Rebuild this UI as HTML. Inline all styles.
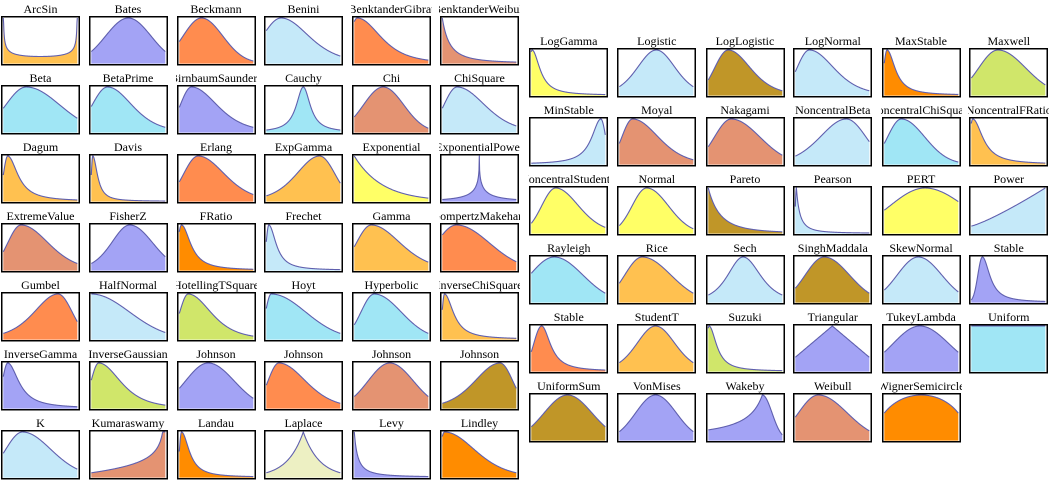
<!DOCTYPE html>
<html><head><meta charset="utf-8">
<style>
html,body{margin:0;padding:0;background:#fff;}
body{width:1051px;height:486px;position:relative;overflow:hidden;}
.c{position:absolute;width:81px;}
.t{height:14px;display:flex;justify-content:center;overflow:hidden;white-space:nowrap;font:12px/14px "Liberation Serif","Times New Roman",serif;color:#000;}
.t span{flex:none;}
.c svg{display:block;margin-left:1px;overflow:hidden;}
.c rect{fill:#fff;stroke:#000;stroke-width:1.5;}
</style></head><body>
<div class="c" style="left:0px;top:2px"><div class="t"><span>ArcSin</span></div><svg width="79" height="50"><rect x=".75" y=".75" width="77.5" height="48"/></svg></div>
<div class="c" style="left:87.5px;top:2px"><div class="t"><span>Bates</span></div><svg width="79" height="50"><rect x=".75" y=".75" width="77.5" height="48"/></svg></div>
<div class="c" style="left:175.5px;top:2px"><div class="t"><span>Beckmann</span></div><svg width="79" height="50"><rect x=".75" y=".75" width="77.5" height="48"/></svg></div>
<div class="c" style="left:263px;top:2px"><div class="t"><span>Benini</span></div><svg width="79" height="50"><rect x=".75" y=".75" width="77.5" height="48"/></svg></div>
<div class="c" style="left:351px;top:2px"><div class="t"><span>BenktanderGibrat</span></div><svg width="79" height="50"><rect x=".75" y=".75" width="77.5" height="48"/></svg></div>
<div class="c" style="left:439px;top:2px"><div class="t"><span>BenktanderWeibull</span></div><svg width="79" height="50"><rect x=".75" y=".75" width="77.5" height="48"/></svg></div>

<div class="c" style="left:0px;top:71px"><div class="t"><span>Beta</span></div><svg width="79" height="50"><rect x=".75" y=".75" width="77.5" height="48"/></svg></div>
<div class="c" style="left:87.5px;top:71px"><div class="t"><span>BetaPrime</span></div><svg width="79" height="50"><rect x=".75" y=".75" width="77.5" height="48"/></svg></div>
<div class="c" style="left:175.5px;top:71px"><div class="t"><span>BirnbaumSaunders</span></div><svg width="79" height="50"><rect x=".75" y=".75" width="77.5" height="48"/></svg></div>
<div class="c" style="left:263px;top:71px"><div class="t"><span>Cauchy</span></div><svg width="79" height="50"><rect x=".75" y=".75" width="77.5" height="48"/></svg></div>
<div class="c" style="left:351px;top:71px"><div class="t"><span>Chi</span></div><svg width="79" height="50"><rect x=".75" y=".75" width="77.5" height="48"/></svg></div>
<div class="c" style="left:439px;top:71px"><div class="t"><span>ChiSquare</span></div><svg width="79" height="50"><rect x=".75" y=".75" width="77.5" height="48"/></svg></div>

<div class="c" style="left:0px;top:140px"><div class="t"><span>Dagum</span></div><svg width="79" height="50"><rect x=".75" y=".75" width="77.5" height="48"/></svg></div>
<div class="c" style="left:87.5px;top:140px"><div class="t"><span>Davis</span></div><svg width="79" height="50"><rect x=".75" y=".75" width="77.5" height="48"/></svg></div>
<div class="c" style="left:175.5px;top:140px"><div class="t"><span>Erlang</span></div><svg width="79" height="50"><rect x=".75" y=".75" width="77.5" height="48"/></svg></div>
<div class="c" style="left:263px;top:140px"><div class="t"><span>ExpGamma</span></div><svg width="79" height="50"><rect x=".75" y=".75" width="77.5" height="48"/></svg></div>
<div class="c" style="left:351px;top:140px"><div class="t"><span>Exponential</span></div><svg width="79" height="50"><rect x=".75" y=".75" width="77.5" height="48"/></svg></div>
<div class="c" style="left:439px;top:140px"><div class="t"><span>ExponentialPower</span></div><svg width="79" height="50"><rect x=".75" y=".75" width="77.5" height="48"/></svg></div>

<div class="c" style="left:0px;top:209px"><div class="t"><span>ExtremeValue</span></div><svg width="79" height="50"><rect x=".75" y=".75" width="77.5" height="48"/></svg></div>
<div class="c" style="left:87.5px;top:209px"><div class="t"><span>FisherZ</span></div><svg width="79" height="50"><rect x=".75" y=".75" width="77.5" height="48"/></svg></div>
<div class="c" style="left:175.5px;top:209px"><div class="t"><span>FRatio</span></div><svg width="79" height="50"><rect x=".75" y=".75" width="77.5" height="48"/></svg></div>
<div class="c" style="left:263px;top:209px"><div class="t"><span>Frechet</span></div><svg width="79" height="50"><rect x=".75" y=".75" width="77.5" height="48"/></svg></div>
<div class="c" style="left:351px;top:209px"><div class="t"><span>Gamma</span></div><svg width="79" height="50"><rect x=".75" y=".75" width="77.5" height="48"/></svg></div>
<div class="c" style="left:439px;top:209px"><div class="t"><span>GompertzMakeham</span></div><svg width="79" height="50"><rect x=".75" y=".75" width="77.5" height="48"/></svg></div>

<div class="c" style="left:0px;top:278px"><div class="t"><span>Gumbel</span></div><svg width="79" height="50"><rect x=".75" y=".75" width="77.5" height="48"/></svg></div>
<div class="c" style="left:87.5px;top:278px"><div class="t"><span>HalfNormal</span></div><svg width="79" height="50"><rect x=".75" y=".75" width="77.5" height="48"/></svg></div>
<div class="c" style="left:175.5px;top:278px"><div class="t"><span>HotellingTSquare</span></div><svg width="79" height="50"><rect x=".75" y=".75" width="77.5" height="48"/></svg></div>
<div class="c" style="left:263px;top:278px"><div class="t"><span>Hoyt</span></div><svg width="79" height="50"><rect x=".75" y=".75" width="77.5" height="48"/></svg></div>
<div class="c" style="left:351px;top:278px"><div class="t"><span>Hyperbolic</span></div><svg width="79" height="50"><rect x=".75" y=".75" width="77.5" height="48"/></svg></div>
<div class="c" style="left:439px;top:278px"><div class="t"><span>InverseChiSquare</span></div><svg width="79" height="50"><rect x=".75" y=".75" width="77.5" height="48"/></svg></div>

<div class="c" style="left:0px;top:347px"><div class="t"><span>InverseGamma</span></div><svg width="79" height="50"><rect x=".75" y=".75" width="77.5" height="48"/></svg></div>
<div class="c" style="left:87.5px;top:347px"><div class="t"><span>InverseGaussian</span></div><svg width="79" height="50"><rect x=".75" y=".75" width="77.5" height="48"/></svg></div>
<div class="c" style="left:175.5px;top:347px"><div class="t"><span>Johnson</span></div><svg width="79" height="50"><rect x=".75" y=".75" width="77.5" height="48"/></svg></div>
<div class="c" style="left:263px;top:347px"><div class="t"><span>Johnson</span></div><svg width="79" height="50"><rect x=".75" y=".75" width="77.5" height="48"/></svg></div>
<div class="c" style="left:351px;top:347px"><div class="t"><span>Johnson</span></div><svg width="79" height="50"><rect x=".75" y=".75" width="77.5" height="48"/></svg></div>
<div class="c" style="left:439px;top:347px"><div class="t"><span>Johnson</span></div><svg width="79" height="50"><rect x=".75" y=".75" width="77.5" height="48"/></svg></div>

<div class="c" style="left:0px;top:416px"><div class="t"><span>K</span></div><svg width="79" height="50"><rect x=".75" y=".75" width="77.5" height="48"/></svg></div>
<div class="c" style="left:87.5px;top:416px"><div class="t"><span>Kumaraswamy</span></div><svg width="79" height="50"><rect x=".75" y=".75" width="77.5" height="48"/></svg></div>
<div class="c" style="left:175.5px;top:416px"><div class="t"><span>Landau</span></div><svg width="79" height="50"><rect x=".75" y=".75" width="77.5" height="48"/></svg></div>
<div class="c" style="left:263px;top:416px"><div class="t"><span>Laplace</span></div><svg width="79" height="50"><rect x=".75" y=".75" width="77.5" height="48"/></svg></div>
<div class="c" style="left:351px;top:416px"><div class="t"><span>Levy</span></div><svg width="79" height="50"><rect x=".75" y=".75" width="77.5" height="48"/></svg></div>
<div class="c" style="left:439px;top:416px"><div class="t"><span>Lindley</span></div><svg width="79" height="50"><rect x=".75" y=".75" width="77.5" height="48"/></svg></div>

<div class="c" style="left:528.3px;top:34px"><div class="t"><span>LogGamma</span></div><svg width="79" height="50"><rect x=".75" y=".75" width="77.5" height="48"/></svg></div>
<div class="c" style="left:616.3px;top:34px"><div class="t"><span>Logistic</span></div><svg width="79" height="50"><rect x=".75" y=".75" width="77.5" height="48"/></svg></div>
<div class="c" style="left:704.5px;top:34px"><div class="t"><span>LogLogistic</span></div><svg width="79" height="50"><rect x=".75" y=".75" width="77.5" height="48"/></svg></div>
<div class="c" style="left:792.3px;top:34px"><div class="t"><span>LogNormal</span></div><svg width="79" height="50"><rect x=".75" y=".75" width="77.5" height="48"/></svg></div>
<div class="c" style="left:880.5px;top:34px"><div class="t"><span>MaxStable</span></div><svg width="79" height="50"><rect x=".75" y=".75" width="77.5" height="48"/></svg></div>
<div class="c" style="left:968.3px;top:34px"><div class="t"><span>Maxwell</span></div><svg width="79" height="50"><rect x=".75" y=".75" width="77.5" height="48"/></svg></div>

<div class="c" style="left:528.3px;top:103px"><div class="t"><span>MinStable</span></div><svg width="79" height="50"><rect x=".75" y=".75" width="77.5" height="48"/></svg></div>
<div class="c" style="left:616.3px;top:103px"><div class="t"><span>Moyal</span></div><svg width="79" height="50"><rect x=".75" y=".75" width="77.5" height="48"/></svg></div>
<div class="c" style="left:704.5px;top:103px"><div class="t"><span>Nakagami</span></div><svg width="79" height="50"><rect x=".75" y=".75" width="77.5" height="48"/></svg></div>
<div class="c" style="left:792.3px;top:103px"><div class="t"><span>NoncentralBeta</span></div><svg width="79" height="50"><rect x=".75" y=".75" width="77.5" height="48"/></svg></div>
<div class="c" style="left:880.5px;top:103px"><div class="t"><span>NoncentralChiSquare</span></div><svg width="79" height="50"><rect x=".75" y=".75" width="77.5" height="48"/></svg></div>
<div class="c" style="left:968.3px;top:103px"><div class="t"><span>NoncentralFRatio</span></div><svg width="79" height="50"><rect x=".75" y=".75" width="77.5" height="48"/></svg></div>

<div class="c" style="left:528.3px;top:172px"><div class="t"><span>NoncentralStudentT</span></div><svg width="79" height="50"><rect x=".75" y=".75" width="77.5" height="48"/></svg></div>
<div class="c" style="left:616.3px;top:172px"><div class="t"><span>Normal</span></div><svg width="79" height="50"><rect x=".75" y=".75" width="77.5" height="48"/></svg></div>
<div class="c" style="left:704.5px;top:172px"><div class="t"><span>Pareto</span></div><svg width="79" height="50"><rect x=".75" y=".75" width="77.5" height="48"/></svg></div>
<div class="c" style="left:792.3px;top:172px"><div class="t"><span>Pearson</span></div><svg width="79" height="50"><rect x=".75" y=".75" width="77.5" height="48"/></svg></div>
<div class="c" style="left:880.5px;top:172px"><div class="t"><span>PERT</span></div><svg width="79" height="50"><rect x=".75" y=".75" width="77.5" height="48"/></svg></div>
<div class="c" style="left:968.3px;top:172px"><div class="t"><span>Power</span></div><svg width="79" height="50"><rect x=".75" y=".75" width="77.5" height="48"/></svg></div>

<div class="c" style="left:528.3px;top:241px"><div class="t"><span>Rayleigh</span></div><svg width="79" height="50"><rect x=".75" y=".75" width="77.5" height="48"/></svg></div>
<div class="c" style="left:616.3px;top:241px"><div class="t"><span>Rice</span></div><svg width="79" height="50"><rect x=".75" y=".75" width="77.5" height="48"/></svg></div>
<div class="c" style="left:704.5px;top:241px"><div class="t"><span>Sech</span></div><svg width="79" height="50"><rect x=".75" y=".75" width="77.5" height="48"/></svg></div>
<div class="c" style="left:792.3px;top:241px"><div class="t"><span>SinghMaddala</span></div><svg width="79" height="50"><rect x=".75" y=".75" width="77.5" height="48"/></svg></div>
<div class="c" style="left:880.5px;top:241px"><div class="t"><span>SkewNormal</span></div><svg width="79" height="50"><rect x=".75" y=".75" width="77.5" height="48"/></svg></div>
<div class="c" style="left:968.3px;top:241px"><div class="t"><span>Stable</span></div><svg width="79" height="50"><rect x=".75" y=".75" width="77.5" height="48"/></svg></div>

<div class="c" style="left:528.3px;top:310px"><div class="t"><span>Stable</span></div><svg width="79" height="50"><rect x=".75" y=".75" width="77.5" height="48"/></svg></div>
<div class="c" style="left:616.3px;top:310px"><div class="t"><span>StudentT</span></div><svg width="79" height="50"><rect x=".75" y=".75" width="77.5" height="48"/></svg></div>
<div class="c" style="left:704.5px;top:310px"><div class="t"><span>Suzuki</span></div><svg width="79" height="50"><rect x=".75" y=".75" width="77.5" height="48"/></svg></div>
<div class="c" style="left:792.3px;top:310px"><div class="t"><span>Triangular</span></div><svg width="79" height="50"><rect x=".75" y=".75" width="77.5" height="48"/></svg></div>
<div class="c" style="left:880.5px;top:310px"><div class="t"><span>TukeyLambda</span></div><svg width="79" height="50"><rect x=".75" y=".75" width="77.5" height="48"/></svg></div>
<div class="c" style="left:968.3px;top:310px"><div class="t"><span>Uniform</span></div><svg width="79" height="50"><rect x=".75" y=".75" width="77.5" height="48"/></svg></div>

<div class="c" style="left:528.3px;top:379px"><div class="t"><span>UniformSum</span></div><svg width="79" height="50"><rect x=".75" y=".75" width="77.5" height="48"/></svg></div>
<div class="c" style="left:616.3px;top:379px"><div class="t"><span>VonMises</span></div><svg width="79" height="50"><rect x=".75" y=".75" width="77.5" height="48"/></svg></div>
<div class="c" style="left:704.5px;top:379px"><div class="t"><span>Wakeby</span></div><svg width="79" height="50"><rect x=".75" y=".75" width="77.5" height="48"/></svg></div>
<div class="c" style="left:792.3px;top:379px"><div class="t"><span>Weibull</span></div><svg width="79" height="50"><rect x=".75" y=".75" width="77.5" height="48"/></svg></div>
<div class="c" style="left:880.5px;top:379px"><div class="t"><span>WignerSemicircle</span></div><svg width="79" height="50"><rect x=".75" y=".75" width="77.5" height="48"/></svg></div>

<script>
(function(){
var OY='#ffc150',LAV='#a3a3f5',OR='#ff8c4f',LB='#c5e9f9',SAL='#e49372',CY='#a0e6f5',YEL='#ffff66',OL='#c09628',YG='#d0e66a',DO='#ff8c00',PA='#edf0c3';
var S=[
[OY,'arcsin'],
[LAV,.5,['g',.26],['g',.26]],
[OR,.30,['g',.48],['g',.05]],
[LB,.2,['g',.72],['t',5,.16]],
[OR,.04,['g',.92],['t',3,.07]],
[SAL,0,null,['p',2,.197]],
[CY,.31,['g',.53],['g',.31]],
[CY,.22,['g',.57],['t',6,.11]],
[LAV,.165,['g',.55],['t',5,.11]],
[CY,.5,['tw',1,.115],['tw',1,.115]],
[SAL,.39,['g',.34],['g',.09]],
[LB,.2,['g',.53],['t',8,.14]],
[OY,.06,['g',.58],['tw',1,.165]],
[OY,.02,['g',.58],['tw',1,.075]],
[OR,.255,['g',.43],['t',8,.15]],
[OY,.72,['t',6,.12],['g',.4]],
[YEL,0,null,['e',.07]],
[LAV,'ep'],
[SAL,.24,['g',.41],['t',10,.15]],
[LAV,.52,['t',8,.15],['g',.3]],
[DO,.03,['g',.85],['tw',1,.148]],
[LB,.034,['g',.63],['tw',1,.118]],
[OY,.23,['g',.52],['t',8,.18]],
[OR,.19,['g',.78],['g',.19]],
[OR,.74,['t',5,.13],['g',.39]],
[LB,0,null,['g',.15]],
[YG,.12,['g',.57],['t',4,.07]],
[CY,.066,['g',.68],['g',.13]],
[CY,.27,['g',.32],['g',.13]],
[OY,.03,['g',.65],['tw',1,.145]],
[LAV,.06,['g',.7],['tw',1,.18]],
[YG,.1,['g',.62],['t',3,.07]],
[LAV,.39,['g',.44],['g',.22]],
[OR,.17,['g',.51],['t',8,.11]],
[SAL,.48,['g',.26],['g',.26]],
[OL,.78,['t',8,.11],['g',.44]],
[LB,.26,['g',.53],['t',20,.18]],
[SAL,'kuma'],
[DO,.03,['g',.57],['tw',1,.125]],
[PA,.5,['e',.1],['e',.1]],
[LAV,0,null,['p',1.5,.0712]],
[DO,.03,['g',.9],['t',8,.1]],
[YEL,.01,['g',.96],['tw',1,.127]],
[LB,.5,['t',8,.19],['t',8,.19]],
[OL,.27,['g',.34],['t',6,.1]],
[LB,.19,['g',.52],['t',6,.1]],
[DO,.037,['g',.71],['tw',1,.133]],
[YG,.36,['g',.38],['g',.23]],
[LB,.94,['tw',1,.15],['g',.65]],
[SAL,.18,['g',.46],['t',8,.1]],
[SAL,.31,['g',.39],['g',.2]],
[LB,.69,['t',10,.18],['g',.5]],
[CY,.23,['g',.46],['g',.05]],
[OY,.02,['g',.9],['tw',1,.164]],
[YEL,.33,['g',.22],['t',10,.13]],
[YEL,.37,['g',.17],['g',.1]],
[OL,0,null,['p',3,.472]],
[LB,.015,['g',.59],['p',2,.093]],
[YEL,.55,['g',.51],['g',.7]],
[LB,'power'],
[CY,.31,['g',.64],['g',.2]],
[OY,.31,['g',.42],['g',.2]],
[LB,.47,['t',3,.16],['t',3,.16]],
[OL,.39,['g',.31],['g',.2]],
[LB,.46,['g',.27],['g',.23]],
[LAV,.15,['g',.05],['t',1,.02]],
[OR,.14,['g',.43],['tw',1,.145]],
[OY,.49,['t',10,.19],['t',10,.19]],
[YG,.01,['g',.95],['tw',1,.121]],
[LAV,'tri'],
[LAV,.48,['g',.42],['g',.42]],
[CY,'flat'],
[OL,.49,['g',.3],['g',.3]],
[LAV,.49,['g',.19],['g',.19]],
[LAV,.73,['p',1,.218],['g',.12]],
[SAL,.31,['g',.51],['g',.21]],
[DO,'semi']
];
function sideFn(s,dEnd){
  if(!s)return function(){return 1;};
  var t=s[0],w,k,q;
  if(t==='g'){w=dEnd/Math.sqrt(-2*Math.log(s[1]));return function(d){return Math.exp(-d*d/(2*w*w));};}
  if(t==='t'){k=s[1];w=dEnd/Math.sqrt(k*(Math.pow(s[2],-2/(k+1))-1));return function(d){return Math.pow(1+d*d/(k*w*w),-(k+1)/2);};}
  if(t==='tw'){k=s[1];w=s[2];return function(d){return Math.pow(1+d*d/(k*w*w),-(k+1)/2);};}
  if(t==='p'){q=s[1];w=s[2];return function(d){return Math.pow(1+d/w,-q);};}
  if(t==='e'){w=dEnd/(-Math.log(s[1]));return function(d){return Math.exp(-d/w);};}
  return function(){return 1;};
}
function mk(s){
  var p=s[1];
  if(p==='arcsin')return function(u){var v=.003+u*.994;return .075/Math.sqrt(v*(1-v));};
  if(p==='kuma')return function(u){return (1+2*u)*Math.pow(1.01-u,-.4)/10;};
  if(p==='ep')return function(u){return Math.exp(-Math.pow(Math.abs(u-.5)/.037,.45));};
  if(p==='power')return function(u){return .16+.84*Math.pow(u,1.2);};
  if(p==='tri')return function(u){return 1-.69*Math.abs(u-.5)/.5;};
  if(p==='flat')return function(){return 1;};
  if(p==='semi')return function(u){return Math.sqrt(Math.max(0,1-Math.pow((u-.5)/.625,2)));};
  var L=p>0?sideFn(s[2],p):null,R=p<1?sideFn(s[3],1-p):null;
  return function(u){return u<p?L(p-u):R(u-p);};
}
var NS='http://www.w3.org/2000/svg';
var svgs=document.querySelectorAll('.c svg');
for(var i=0;i<svgs.length&&i<S.length;i++){
  var s=S[i],f=mk(s),us=[],j;
  for(j=0;j<=240;j++)us.push(j/240);
  if(typeof s[1]==='number')us.push(s[1]);
  if(s[1]==='ep')us.push(.5);
  us.sort(function(a,b){return a-b;});
  var pts=[];
  for(j=0;j<us.length;j++){
    var u=us[j],h=f(u);
    if(!(h>=0))h=0; if(h>1)h=1;
    pts.push((2.3+u*74).toFixed(2)+','+(47.3-h*45.3).toFixed(2));
  }
  var fp=document.createElementNS(NS,'path');
  fp.setAttribute('d','M2.3,47.6L'+pts.join('L')+'L76.3,47.6Z');
  fp.setAttribute('fill',s[0]);
  svgs[i].appendChild(fp);
  var lp=document.createElementNS(NS,'path');
  lp.setAttribute('d','M'+pts.join('L'));
  lp.setAttribute('fill','none');
  lp.setAttribute('stroke','#5f5fae');
  lp.setAttribute('stroke-width','1.1');
  lp.setAttribute('stroke-linejoin','round');
  svgs[i].appendChild(lp);
}
})();
</script>
</body></html>
